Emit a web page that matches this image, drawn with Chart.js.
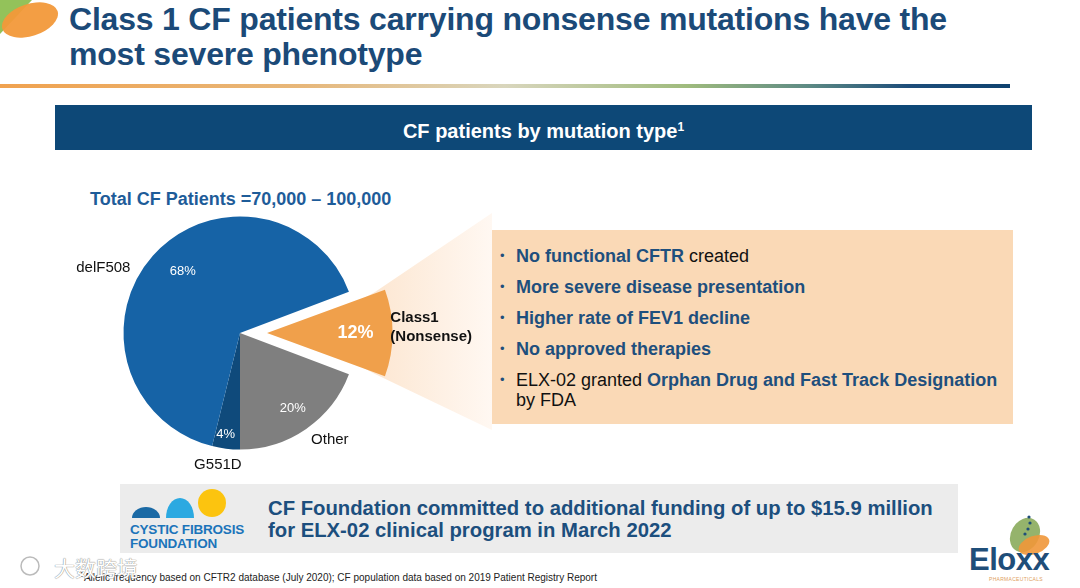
<!DOCTYPE html>
<html>
<head>
<meta charset="utf-8">
<script src="https://cdn.jsdelivr.net/npm/chart.js@4.4.1/dist/chart.umd.min.js"></script>
<style>
  html, body { margin: 0; padding: 0; }
  body { width: 1080px; height: 588px; position: relative; overflow: hidden; background: #fff;
         font-family: "Liberation Sans", Arial, sans-serif; }
  .abs { position: absolute; }
  #title { left: 69px; top: 2px; font-weight: bold; font-size: 32px; line-height: 35px; letter-spacing: -0.2px;
           color: #1b4a78; white-space: nowrap; }
  #rule { left: 0; top: 84px; width: 1010px; height: 4px;
          background: linear-gradient(90deg, #f0a24f 0%, #e7b77a 30%, #d9d6bd 50%, #9fbb7d 68%, #5d8a84 80%, #1d4d7a 90%, #0f426f 100%); }
  #banner { left: 55px; top: 105px; width: 977px; height: 45px; background: #0d4877;
            color: #fff; font-weight: bold; font-size: 20px; line-height: 45px; text-align: center; }
  #banner sup { font-size: 12px; vertical-align: 7px; }
  #total { left: 90px; top: 189px; font-weight: bold; font-size: 18px; color: #1e5c99; white-space: nowrap; }
  #box { left: 492px; top: 230px; width: 521px; height: 194px; background: #fad9b6; }
  #box ul { margin: 0; padding: 0; list-style: none; position: absolute; left: 8px; top: 16px; }
  #box li { font-size: 18px; line-height: 20px; color: #111; margin-bottom: 11px; padding-left: 16px; position: relative; }
  #box li:before { content: "\2022"; position: absolute; left: 0; color: #1e4f7d; font-size: 13px; }
  #box b { color: #1e4f7d; }
  #cff { left: 120px; top: 484px; width: 838px; height: 69px; background: #ececec; }
  #cfftext { left: 268px; top: 497px; font-weight: bold; font-size: 20.3px; line-height: 22px; color: #1c4f7e; white-space: nowrap; }
  #foot { left: 80px; top: 571px; font-size: 10px; color: #222; white-space: nowrap; }
  #wm { left: 54px; top: 552px; font-family: "Noto Sans CJK SC", sans-serif; font-size: 21px; color: #fff;
        text-shadow: 0 0 1px #888, 0 0 1px #888; white-space: nowrap; }
  #pie { left: 30px; top: 160px; width: 480px; height: 350px; }
</style>
</head>
<body>
<svg class="abs" style="left:0;top:0" width="1080" height="588">
  <defs>
    <linearGradient id="fan" x1="0" y1="0" x2="1" y2="0">
      <stop offset="0" stop-color="#fbdcbe"/>
      <stop offset="1" stop-color="#fff8f2"/>
    </linearGradient>
  </defs>
  <!-- top-left decoration -->
  <polygon points="0,0 32,0 0,34" fill="#93c25a"/>
  <ellipse cx="30" cy="20" rx="29" ry="16" transform="rotate(-18 30 20)" fill="#f2993a" opacity="0.95"/>
  <!-- fan from the exploded wedge to the text box -->
  <polygon points="300,334 375,292 492,213 492,430 375,374" fill="url(#fan)"/>
</svg>

<div id="title" class="abs">Class 1 CF patients carrying nonsense mutations have the<br>most severe phenotype</div>
<div id="rule" class="abs"></div>
<div id="banner" class="abs">CF patients by mutation type<sup>1</sup></div>
<div id="total" class="abs">Total CF Patients =70,000 &ndash; 100,000</div>

<div id="box" class="abs">
  <ul>
    <li><b>No functional CFTR</b> created</li>
    <li><b>More severe disease presentation</b></li>
    <li><b>Higher rate of FEV1 decline</b></li>
    <li><b>No approved therapies</b></li>
    <li>ELX-02 granted <b>Orphan Drug and Fast Track Designation</b><br>by FDA</li>
  </ul>
</div>

<div id="cff" class="abs"></div>
<svg class="abs" style="left:0;top:0" width="1080" height="588">
  <!-- CF Foundation logo marks -->
  <path d="M132,518 A14,11 0 0 1 160,518 Z" fill="#1b6aa5"/>
  <path d="M166,518 A14,20 0 0 1 194,518 Z" fill="#2ba9e1"/>
  <circle cx="212" cy="503" r="14" fill="#fcc40f"/>
  <!-- Eloxx logo marks -->
  <ellipse cx="1025" cy="535" rx="14" ry="18" transform="rotate(30 1025 535)" fill="#8aab5c" opacity="0.9"/>
  <ellipse cx="1034" cy="545" rx="16" ry="9" transform="rotate(-20 1034 545)" fill="#f0973a" opacity="0.9"/>
  <circle cx="1029" cy="517" r="1.6" fill="#1f4e79"/>
  <circle cx="1030" cy="523" r="1.6" fill="#1f4e79"/>
  <circle cx="1028" cy="529" r="1.6" fill="#1f4e79"/>
  <circle cx="1025" cy="534" r="1.6" fill="#1f4e79"/>
  <!-- watermark mark -->
  <circle cx="30" cy="566" r="9" fill="none" stroke="#bbb" stroke-width="1.5"/>
</svg>
<div class="abs" style="left:130px;top:523px;font-weight:bold;font-size:13.5px;line-height:14px;color:#1b74ba;letter-spacing:-0.2px">CYSTIC FIBROSIS<br>FOUNDATION</div>
<div id="cfftext" class="abs">CF Foundation committed to additional funding of up to $15.9 million<br>for ELX-02 clinical program in March 2022</div>

<div class="abs" style="left:969px;top:542px;font-size:31px;font-weight:bold;color:#1f4e79;letter-spacing:-0.5px">Eloxx</div>
<div class="abs" style="left:989px;top:576px;font-size:5px;color:#e0a060;letter-spacing:0.3px">PHARMACEUTICALS</div>

<div id="foot" class="abs"><sup style="font-size:7px">1</sup>Allelic frequency based on CFTR2 database (July 2020); CF population data based on 2019 Patient Registry Report</div>
<div id="wm" class="abs">大数跨境</div>

<div id="pie" class="abs"><canvas id="pieChart"></canvas></div>

<script>
const categories = ["Class1 (Nonsense)", "Other", "G551D", "delF508"];
const shares = [12, 20, 4, 68];
const shareLabels = ["12%", "20%", "4%", "68%"];
const sliceColors = ["#f0a04b", "#7f7f7f", "#0f4a7b", "#1663a6"];

// where each label sits: [canvas angle in degrees, radius factor]
const innerLayout = [[0, 0.76], [55, 0.79], [98, 0.88], [227, 0.72]];
const outerLayout = [[-3, 1.06], [50, 1.2], [99.5, 1.15], [205.5, 1.3]];

const labelPlugin = {
  id: "sliceLabels",
  afterDatasetsDraw(chart) {
    const ctx = chart.ctx;
    const arcs = chart.getDatasetMeta(0).data;
    const cx = arcs[3].x, cy = arcs[3].y, r = arcs[3].outerRadius;
    ctx.save();
    ctx.textBaseline = "middle";
    arcs.forEach((arc, i) => {
      // chart.js moves an exploded arc by offset / 4
      const off = (arc.options.offset || 0) / 4;
      const mid = (arc.startAngle + arc.endAngle) / 2;
      const ox = cx + Math.cos(mid) * off, oy = cy + Math.sin(mid) * off;
      const [a, f] = innerLayout[i];
      const rad = a * Math.PI / 180;
      ctx.fillStyle = "#fff";
      ctx.textAlign = "center";
      ctx.font = i === 0 ? "bold 18px 'Liberation Sans'" : "13px 'Liberation Sans'";
      ctx.fillText(shareLabels[i], ox + Math.cos(rad) * r * f, oy + Math.sin(rad) * r * f);

      const [a2, f2] = outerLayout[i];
      const rad2 = a2 * Math.PI / 180;
      const tx = ox + Math.cos(rad2) * r * f2, ty = oy + Math.sin(rad2) * r * f2;
      ctx.fillStyle = "#111";
      if (i === 0) {
        ctx.textAlign = "left";
        ctx.font = "bold 15px 'Liberation Sans'";
        const parts = ["Class1", "(Nonsense)"];
        ctx.fillText(parts[0], tx, ty - 9);
        ctx.fillText(parts[1], tx, ty + 10);
      } else {
        ctx.textAlign = "center";
        ctx.font = "15px 'Liberation Sans'";
        ctx.fillText(categories[i], tx, ty);
      }
    });
    ctx.restore();
  }
};

new Chart(document.getElementById("pieChart"), {
  type: "pie",
  data: {
    labels: categories,
    datasets: [{
      data: shares,
      backgroundColor: sliceColors,
      borderWidth: 0,
      offset: [108, 0, 0, 0]
    }]
  },
  options: {
    responsive: true,
    maintainAspectRatio: false,
    animation: false,
    rotation: 69.23,
    layout: { padding: { left: 39.5, right: 99.5, top: 2.5, bottom: 6.5 } },
    plugins: {
      legend: { display: false },
      tooltip: { enabled: false }
    }
  },
  plugins: [labelPlugin]
});
</script>
</body>
</html>
